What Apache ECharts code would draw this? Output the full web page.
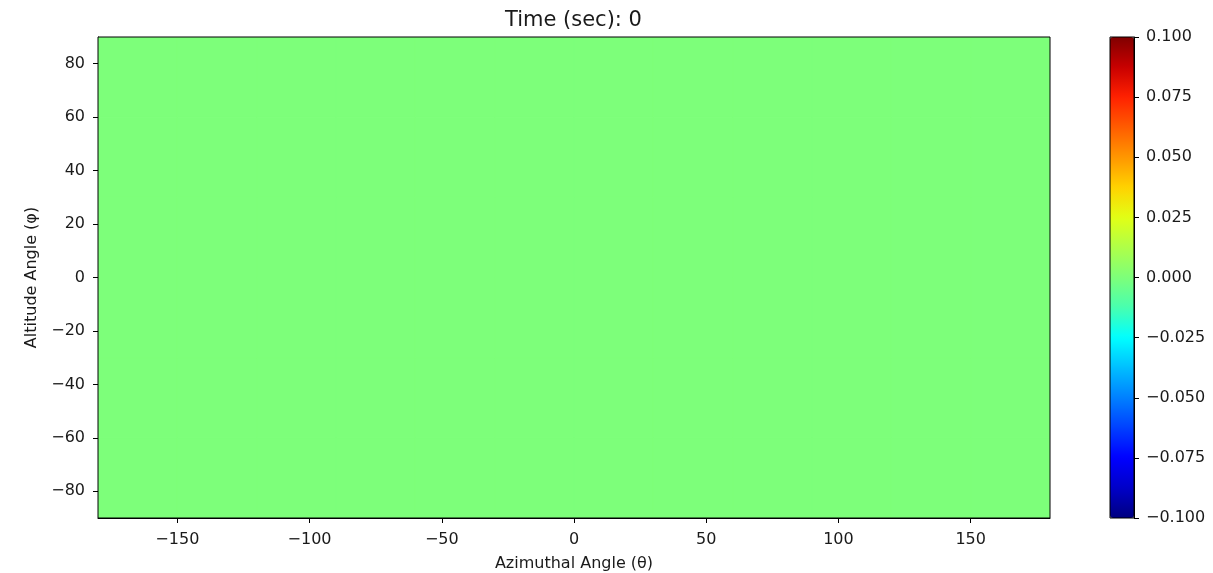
<!DOCTYPE html>
<html>
<head>
<meta charset="utf-8">
<script src="https://cdn.jsdelivr.net/npm/echarts@6/dist/echarts.min.js"></script>
<style>
  html, body { margin: 0; padding: 0; background: #fff; }
  #chart { width: 1213px; height: 573px; }
</style>
</head>
<body>
<div id="chart"></div>
<script>
// cell centres of the intensity map (degrees), 30 deg cells
const thetaCenters = [-165, -135, -105, -75, -45, -15, 15, 45, 75, 105, 135, 165]
const phiCenters = [-75, -45, -15, 15, 45, 75]
const cellDeg = 30
// intensity at time 0 (rows = phi, cols = theta)
const intensity = [
  [0, 0, 0, 0, 0, 0, 0, 0, 0, 0, 0, 0],
  [0, 0, 0, 0, 0, 0, 0, 0, 0, 0, 0, 0],
  [0, 0, 0, 0, 0, 0, 0, 0, 0, 0, 0, 0],
  [0, 0, 0, 0, 0, 0, 0, 0, 0, 0, 0, 0],
  [0, 0, 0, 0, 0, 0, 0, 0, 0, 0, 0, 0],
  [0, 0, 0, 0, 0, 0, 0, 0, 0, 0, 0, 0]
]
const xTicks = [-150, -100, -50, 0, 50, 100, 150]
const yTicks = [-80, -60, -40, -20, 0, 20, 40, 60, 80]
const cbTicks = [-0.1, -0.075, -0.05, -0.025, 0, 0.025, 0.05, 0.075, 0.1]
const cbMin = -0.1
const cbMax = 0.1

// matplotlib 'jet'
const jet = ['#000080', '#0000C8', '#0000FF', '#0040FF', '#0080FF', '#00BFFF', '#00FFFF', '#48FFAF',
  '#7DFF7A', '#AFFF48', '#E2FF15', '#FFD200', '#FF9700', '#FF5C00', '#FF2100', '#C80000', '#800000']

const cells = []
phiCenters.forEach((phi, i) => {
  thetaCenters.forEach((theta, j) => {
    cells.push([theta, phi, intensity[i][j]])
  })
})

const font = 'DejaVu Sans'
const txt = '#1a1a1a'
const minus = v => String(v).replace('-', '\u2212')
const tick = vals => ({ show: true, inside: false, length: 5, customValues: vals, lineStyle: { color: '#000', width: 1 } })
const line = { show: true, onZero: false, lineStyle: { color: '#000', width: 1 } }

const chart = echarts.init(document.getElementById('chart'))
chart.setOption({
  animation: false,
  textStyle: { fontFamily: font },
  title: {
    text: 'Time (sec): 0',
    left: 505,
    top: 10,
    padding: 0,
    textStyle: { fontFamily: font, fontSize: 21, fontWeight: 'normal', color: txt }
  },
  grid: [
    {
      left: 98, top: 37, width: 952, height: 481, outerBoundsMode: 'none', containLabel: false,
      show: true, borderColor: '#000', borderWidth: 1, z: 3, backgroundColor: 'transparent'
    },
    {
      left: 1110, top: 37, width: 24, height: 481, outerBoundsMode: 'none', containLabel: false,
      show: true, borderColor: '#000', borderWidth: 1, z: 10, backgroundColor: 'transparent'
    }
  ],
  xAxis: [
    {
      type: 'value',
      gridIndex: 0,
      min: -180,
      max: 180,
      name: 'Azimuthal Angle (θ)',
      nameLocation: 'middle',
      nameGap: 38,
      nameTextStyle: { fontFamily: font, fontSize: 16, color: txt },
      axisLine: line,
      splitLine: { show: false },
      axisTick: tick(xTicks),
      axisLabel: { customValues: xTicks, margin: 14, fontSize: 16, color: txt, fontFamily: font, formatter: minus }
    },
    { type: 'value', gridIndex: 1, show: false, min: 0, max: 1 }
  ],
  yAxis: [
    {
      type: 'value',
      gridIndex: 0,
      min: -90,
      max: 90,
      name: 'Altitude Angle (φ)',
      nameLocation: 'middle',
      nameGap: 58,
      nameTextStyle: { fontFamily: font, fontSize: 16, color: txt },
      axisLine: line,
      splitLine: { show: false },
      axisTick: tick(yTicks),
      axisLabel: { customValues: yTicks, margin: 13, fontSize: 16, color: txt, fontFamily: font, formatter: minus }
    },
    {
      type: 'value',
      gridIndex: 1,
      position: 'right',
      min: cbMin,
      max: cbMax,
      axisLine: line,
      splitLine: { show: false },
      axisTick: tick(cbTicks),
      axisLabel: {
        customValues: cbTicks, margin: 12, fontSize: 16, color: txt, fontFamily: font,
        formatter: v => minus(Number(v).toFixed(3))
      }
    }
  ],
  visualMap: {
    type: 'continuous',
    min: cbMin,
    max: cbMax,
    dimension: 2,
    seriesIndex: 0,
    calculable: false,
    orient: 'vertical',
    left: 1110,
    top: 37,
    padding: 0,
    itemWidth: 24,
    itemHeight: 481,
    hoverLink: false,
    inRange: { color: jet }
  },
  series: [
    {
      type: 'custom',
      xAxisIndex: 0,
      yAxisIndex: 0,
      z: 1,
      clip: true,
      encode: { x: 0, y: 1 },
      data: cells,
      renderItem(params, api) {
        const x = api.value(0)
        const y = api.value(1)
        const p0 = api.coord([x - cellDeg / 2, y + cellDeg / 2])
        const p1 = api.coord([x + cellDeg / 2, y - cellDeg / 2])
        const c = api.visual('color')
        return {
          type: 'rect',
          shape: { x: p0[0], y: p0[1], width: p1[0] - p0[0], height: p1[1] - p0[1] },
          style: { fill: c, stroke: c, lineWidth: 1 }
        }
      }
    }
  ]
})
</script>
</body>
</html>
